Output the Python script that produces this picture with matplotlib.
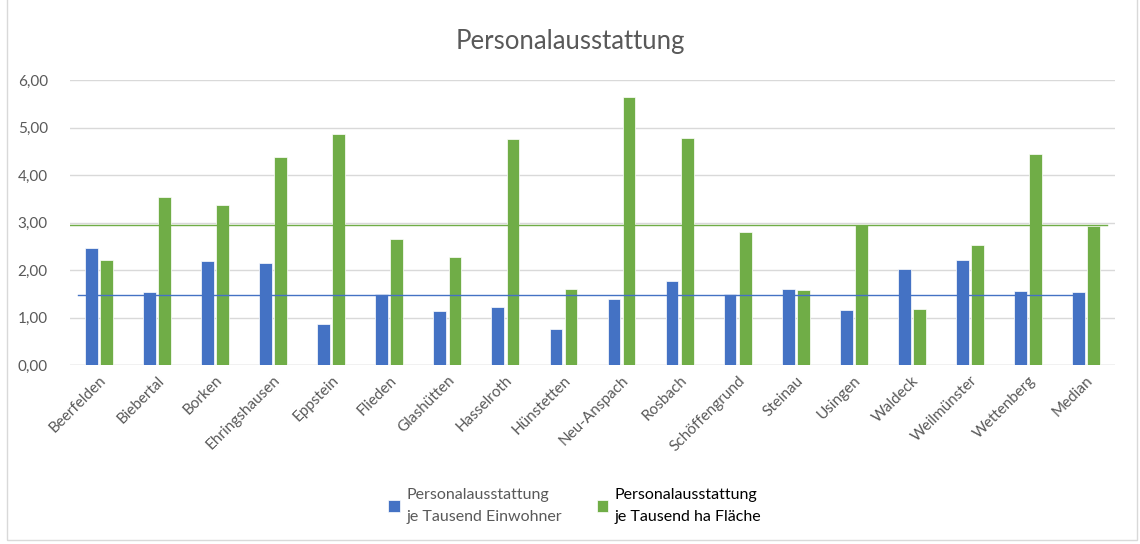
import matplotlib.pyplot as plt
import numpy as np
from matplotlib.patches import Rectangle

plt.rcParams['font.family'] = ['Lato', 'DejaVu Sans']

orte = ['Beerfelden', 'Biebertal', 'Borken', 'Ehringshausen', 'Eppstein', 'Flieden',
        'Glashütten', 'Hasselroth', 'Hünstetten', 'Neu-Anspach', 'Rosbach', 'Schöffengrund',
        'Steinau', 'Usingen', 'Waldeck', 'Weilmünster', 'Wettenberg', 'Median']
je_einwohner = [2.46, 1.54, 2.19, 2.14, 0.86, 1.49, 1.14, 1.22, 0.76, 1.38, 1.77, 1.49,
                1.60, 1.15, 2.03, 2.21, 1.56, 1.54]
je_flaeche = [2.21, 3.54, 3.36, 4.37, 4.87, 2.65, 2.27, 4.75, 1.59, 5.64, 4.78, 2.80,
              1.58, 2.94, 1.18, 2.53, 4.44, 2.93]
median_einwohner = 1.47
median_flaeche = 2.95

blau = '#4472c4'
gruen = '#70ad47'

fig = plt.figure(figsize=(11.4, 5.44), dpi=100)
ax = fig.add_axes([70 / 1140, 1 - 365 / 544, 1045 / 1140, 285 / 544])

x = np.arange(len(orte))
w = 0.22
ax.bar(x - 0.13, je_einwohner, w, color=blau, edgecolor='white', linewidth=0.5,
       label='Personalausstattung\nje Tausend Einwohner', zorder=3)
ax.bar(x + 0.13, je_flaeche, w, color=gruen, edgecolor='white', linewidth=0.5,
       label='Personalausstattung\nje Tausend ha Fläche', zorder=3)

# Medianlinien
ax.plot([-0.36, 16.87], [median_einwohner, median_einwohner], color=blau, lw=1, zorder=4)
ax.plot([-0.82, 17.36], [median_flaeche, median_flaeche], color=gruen, lw=1, zorder=4)

ax.set_xlim(-0.5, len(orte) - 0.5)
ax.set_ylim(0, 6)
ax.set_yticks(np.arange(0, 7, 1))
ax.set_yticklabels([f'{v:.2f}'.replace('.', ',') for v in range(7)])
ax.yaxis.grid(True, color='#d9d9d9', lw=1, zorder=0)
ax.set_xticks(x)
ax.set_xticklabels(orte, rotation=45, ha='right', rotation_mode='anchor')
ax.tick_params(axis='both', length=0, labelsize=11, colors='#595959')
ax.tick_params(axis='y', pad=16)
ax.tick_params(axis='x', pad=6)
for s in ax.spines.values():
    s.set_visible(False)
ax.axhline(0, color='#d9d9d9', lw=1, zorder=2)

fig.text(0.5, 1 - 42 / 544, 'Personalausstattung', ha='center', va='center',
         fontsize=18.5, color='#595959')

leg = ax.legend(loc='upper center', bbox_to_anchor=(0.483, -0.38), ncol=2, frameon=False,
                fontsize=11.5, handlelength=0.7, handleheight=0.7, handletextpad=0.4,
                columnspacing=2.2)
texte = leg.get_texts()
texte[0].set_color('#595959')
texte[1].set_color('black')
for t in texte:
    t.set_linespacing(1.8)

fig.patches.append(Rectangle((7 / 1140, 4 / 544), 1130 / 1140, 1, transform=fig.transFigure,
                             fill=False, edgecolor='#d9d9d9', lw=1))

fig.savefig('out.png', dpi=100)
